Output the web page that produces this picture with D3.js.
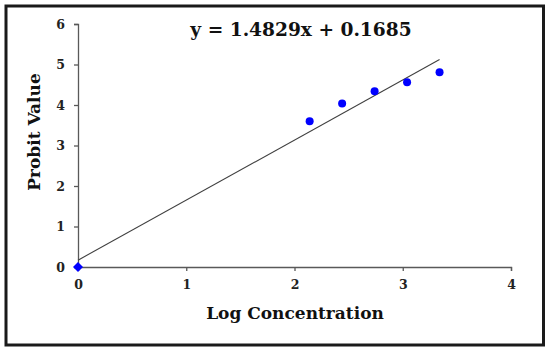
<!DOCTYPE html>
<html>
<head>
<meta charset="utf-8">
<script src="https://cdn.jsdelivr.net/npm/d3@7"></script>
<style>
  html, body { margin: 0; padding: 0; background: #fff; }
  svg { display: block; }
  .tick text { font-family: "DejaVu Serif", serif; font-weight: bold; font-size: 12.5px; fill: #222; }
</style>
</head>
<body>
<div id="chart"></div>
<script>
// data
const logConc = [2.14, 2.44, 2.74, 3.04, 3.34];
const probitVals = [3.6, 4.04, 4.34, 4.56, 4.81];
const controlPoint = [0, 0];
const slope = 1.4829, intercept = 0.1685;
const xTicks = [0, 1, 2, 3, 4];
const yTicks = [0, 1, 2, 3, 4, 5, 6];
const equationLabel = "y = 1.4829x + 0.1685";

const width = 550, height = 351;
const plot = { left: 78, right: 511, top: 24, bottom: 267 };

const svg = d3.select("#chart").append("svg")
    .attr("width", width)
    .attr("height", height);

// outer frame
svg.append("rect")
    .attr("x", 6).attr("y", 6)
    .attr("width", 537.5).attr("height", 339)
    .attr("fill", "#fff")
    .attr("stroke", "#1a1a1a")
    .attr("stroke-width", 3);

const x = d3.scaleLinear().domain([0, 4]).range([plot.left, plot.right]);
const y = d3.scaleLinear().domain([0, 6]).range([plot.bottom, plot.top]);

// axes
const xAxis = svg.append("g")
    .attr("transform", `translate(0,${plot.bottom})`)
    .call(d3.axisBottom(x).tickValues(xTicks).tickSize(4).tickPadding(9).tickFormat(d3.format("d")));
const yAxis = svg.append("g")
    .attr("transform", `translate(${plot.left},0)`)
    .call(d3.axisLeft(y).tickValues(yTicks).tickSize(4).tickPadding(9).tickFormat(d3.format("d")));

[xAxis, yAxis].forEach(g => {
    g.select(".domain").attr("stroke", "#595959").attr("stroke-width", 1.3);
    g.selectAll(".tick line").attr("stroke", "#595959").attr("stroke-width", 1.3);
});

// linear trendline over the data range
const xMax = d3.max(logConc);
svg.append("line")
    .attr("x1", x(0)).attr("y1", y(intercept))
    .attr("x2", x(xMax)).attr("y2", y(slope * xMax + intercept))
    .attr("stroke", "#404040")
    .attr("stroke-width", 1.1);

// control point drawn as diamond (square turned 45deg)
svg.append("path")
    .attr("d", d3.symbol().type(d3.symbolSquare).size(50))
    .attr("transform", `translate(${x(controlPoint[0])},${y(controlPoint[1])}) rotate(45)`)
    .attr("fill", "#0000ff");

// observed points
svg.selectAll(".pt")
    .data(logConc.map((d, i) => [d, probitVals[i]]))
    .join("circle")
    .attr("class", "pt")
    .attr("cx", d => x(d[0]))
    .attr("cy", d => y(d[1]))
    .attr("r", 4)
    .attr("fill", "#0000ff");

// equation
svg.append("text")
    .attr("x", 301).attr("y", 36)
    .attr("text-anchor", "middle")
    .style("font-family", "'DejaVu Serif', serif")
    .style("font-weight", "bold")
    .style("font-size", "18.6px")
    .attr("fill", "#111")
    .text(equationLabel);

// axis titles
svg.append("text")
    .attr("x", 295).attr("y", 319)
    .attr("text-anchor", "middle")
    .style("font-family", "'DejaVu Serif', serif")
    .style("font-weight", "bold")
    .style("font-size", "17px")
    .attr("fill", "#111")
    .text("Log Concentration");

svg.append("text")
    .attr("transform", "translate(40,132) rotate(-90)")
    .attr("text-anchor", "middle")
    .style("font-family", "'DejaVu Serif', serif")
    .style("font-weight", "bold")
    .style("font-size", "17px")
    .attr("fill", "#111")
    .text("Probit Value");
</script>
</body>
</html>
